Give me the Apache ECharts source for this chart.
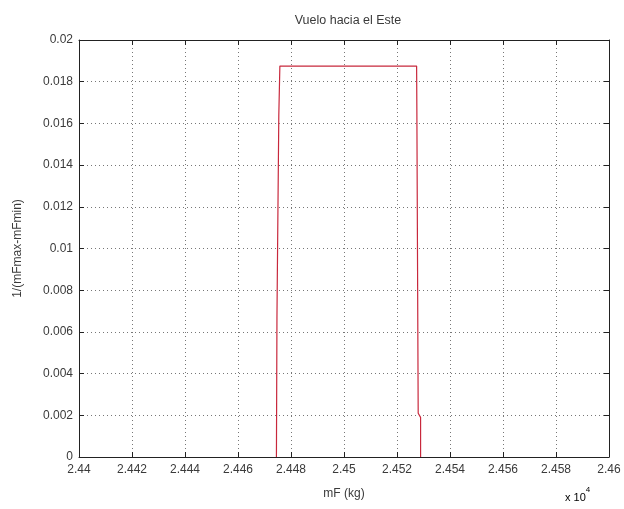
<!DOCTYPE html>
<html>
<head>
<meta charset="utf-8">
<script src="https://cdn.jsdelivr.net/npm/echarts@6/dist/echarts.min.js"></script>
<style>
  html, body { margin: 0; padding: 0; background: #fff; }
  #chart { width: 624px; height: 509px; }
</style>
</head>
<body>
<div id="chart"></div>
<script>
// Fuel mass mF (kg) and 1/(mFmax - mFmin) for the eastward flight
const mF = [24474.5, 24474.7, 24475.4, 24475.8, 24527.4, 24527.5, 24528.0, 24528.9, 24528.9];
const invRange = [0, 0.0067, 0.0164, 0.01875, 0.01875, 0.0165, 0.0021, 0.0019, 0];

// Axis ranges and tick spacing
const xTicks = [24400, 24420, 24440, 24460, 24480, 24500, 24520, 24540, 24560, 24580, 24600];
const yTicks = [0, 0.002, 0.004, 0.006, 0.008, 0.01, 0.012, 0.014, 0.016, 0.018, 0.02];

const titleText = 'Vuelo hacia el Este';
const xName = 'mF (kg)';
const yName = '1/(mFmax-mFmin)';

const font = 'Liberation Sans, Arial, sans-serif';
const textColor = '#3a3a3a';
const fmt = v => String(parseFloat(v.toFixed(6)));

const xMin = xTicks[0], xMax = xTicks[xTicks.length - 1], xStep = xTicks[1] - xTicks[0];
const yMin = yTicks[0], yMax = yTicks[yTicks.length - 1], yStep = yTicks[1] - yTicks[0];

const gridLine = { show: true, lineStyle: { color: '#777', type: [1, 3], width: 1 } };
const frameLine = { show: true, onZero: false, lineStyle: { color: '#222', width: 1 } };
const innerTick = { show: true, inside: true, length: 5, lineStyle: { color: '#222' } };

const chart = echarts.init(document.getElementById('chart'), null, { renderer: 'canvas' });
chart.setOption({
  animation: false,
  backgroundColor: '#fff',
  title: {
    text: titleText,
    left: 343, top: 9, textAlign: 'center',
    textStyle: { fontFamily: font, fontSize: 12.5, fontWeight: 'normal', color: textColor }
  },
  grid: { left: 79, right: 15, top: 40, bottom: 52 },
  graphic: [{
    type: 'text', left: 565, top: 486,
    style: {
      text: '{a|x 10}{s|4}',
      rich: {
        a: { fontFamily: font, fontSize: 11, color: textColor, padding: [6, 0, 0, 0] },
        s: { fontFamily: font, fontSize: 8, color: textColor, verticalAlign: 'top' }
      }
    }
  }],
  xAxis: [{
    type: 'value', min: xMin, max: xMax, interval: xStep,
    position: 'bottom',
    name: xName, nameLocation: 'middle', nameGap: 31,
    nameTextStyle: { fontFamily: font, fontSize: 12, color: textColor },
    axisLine: frameLine, axisTick: innerTick,
    axisLabel: { fontFamily: font, fontSize: 12, color: textColor, margin: 7,
                 formatter: v => fmt(v / 1e4) },
    splitLine: gridLine
  }, {
    type: 'value', min: xMin, max: xMax, interval: xStep,
    position: 'top',
    axisLine: frameLine, axisTick: innerTick,
    axisLabel: { show: false }, splitLine: { show: false }
  }],
  yAxis: [{
    type: 'value', min: yMin, max: yMax, interval: yStep,
    position: 'left',
    name: yName, nameLocation: 'middle', nameGap: 55, nameRotate: 90,
    nameTextStyle: { fontFamily: font, fontSize: 12, color: textColor },
    axisLine: frameLine, axisTick: innerTick,
    axisLabel: { fontFamily: font, fontSize: 12, color: textColor, margin: 6,
                 formatter: v => fmt(v) },
    splitLine: gridLine
  }, {
    type: 'value', min: yMin, max: yMax, interval: yStep,
    position: 'right',
    axisLine: frameLine, axisTick: innerTick,
    axisLabel: { show: false }, splitLine: { show: false }
  }],
  series: [{
    type: 'line',
    data: mF.map((x, i) => [x, invRange[i]]),
    showSymbol: false,
    lineStyle: { color: '#c8283c', width: 1.2 },
    xAxisIndex: 0, yAxisIndex: 0
  }]
});
</script>
</body>
</html>
